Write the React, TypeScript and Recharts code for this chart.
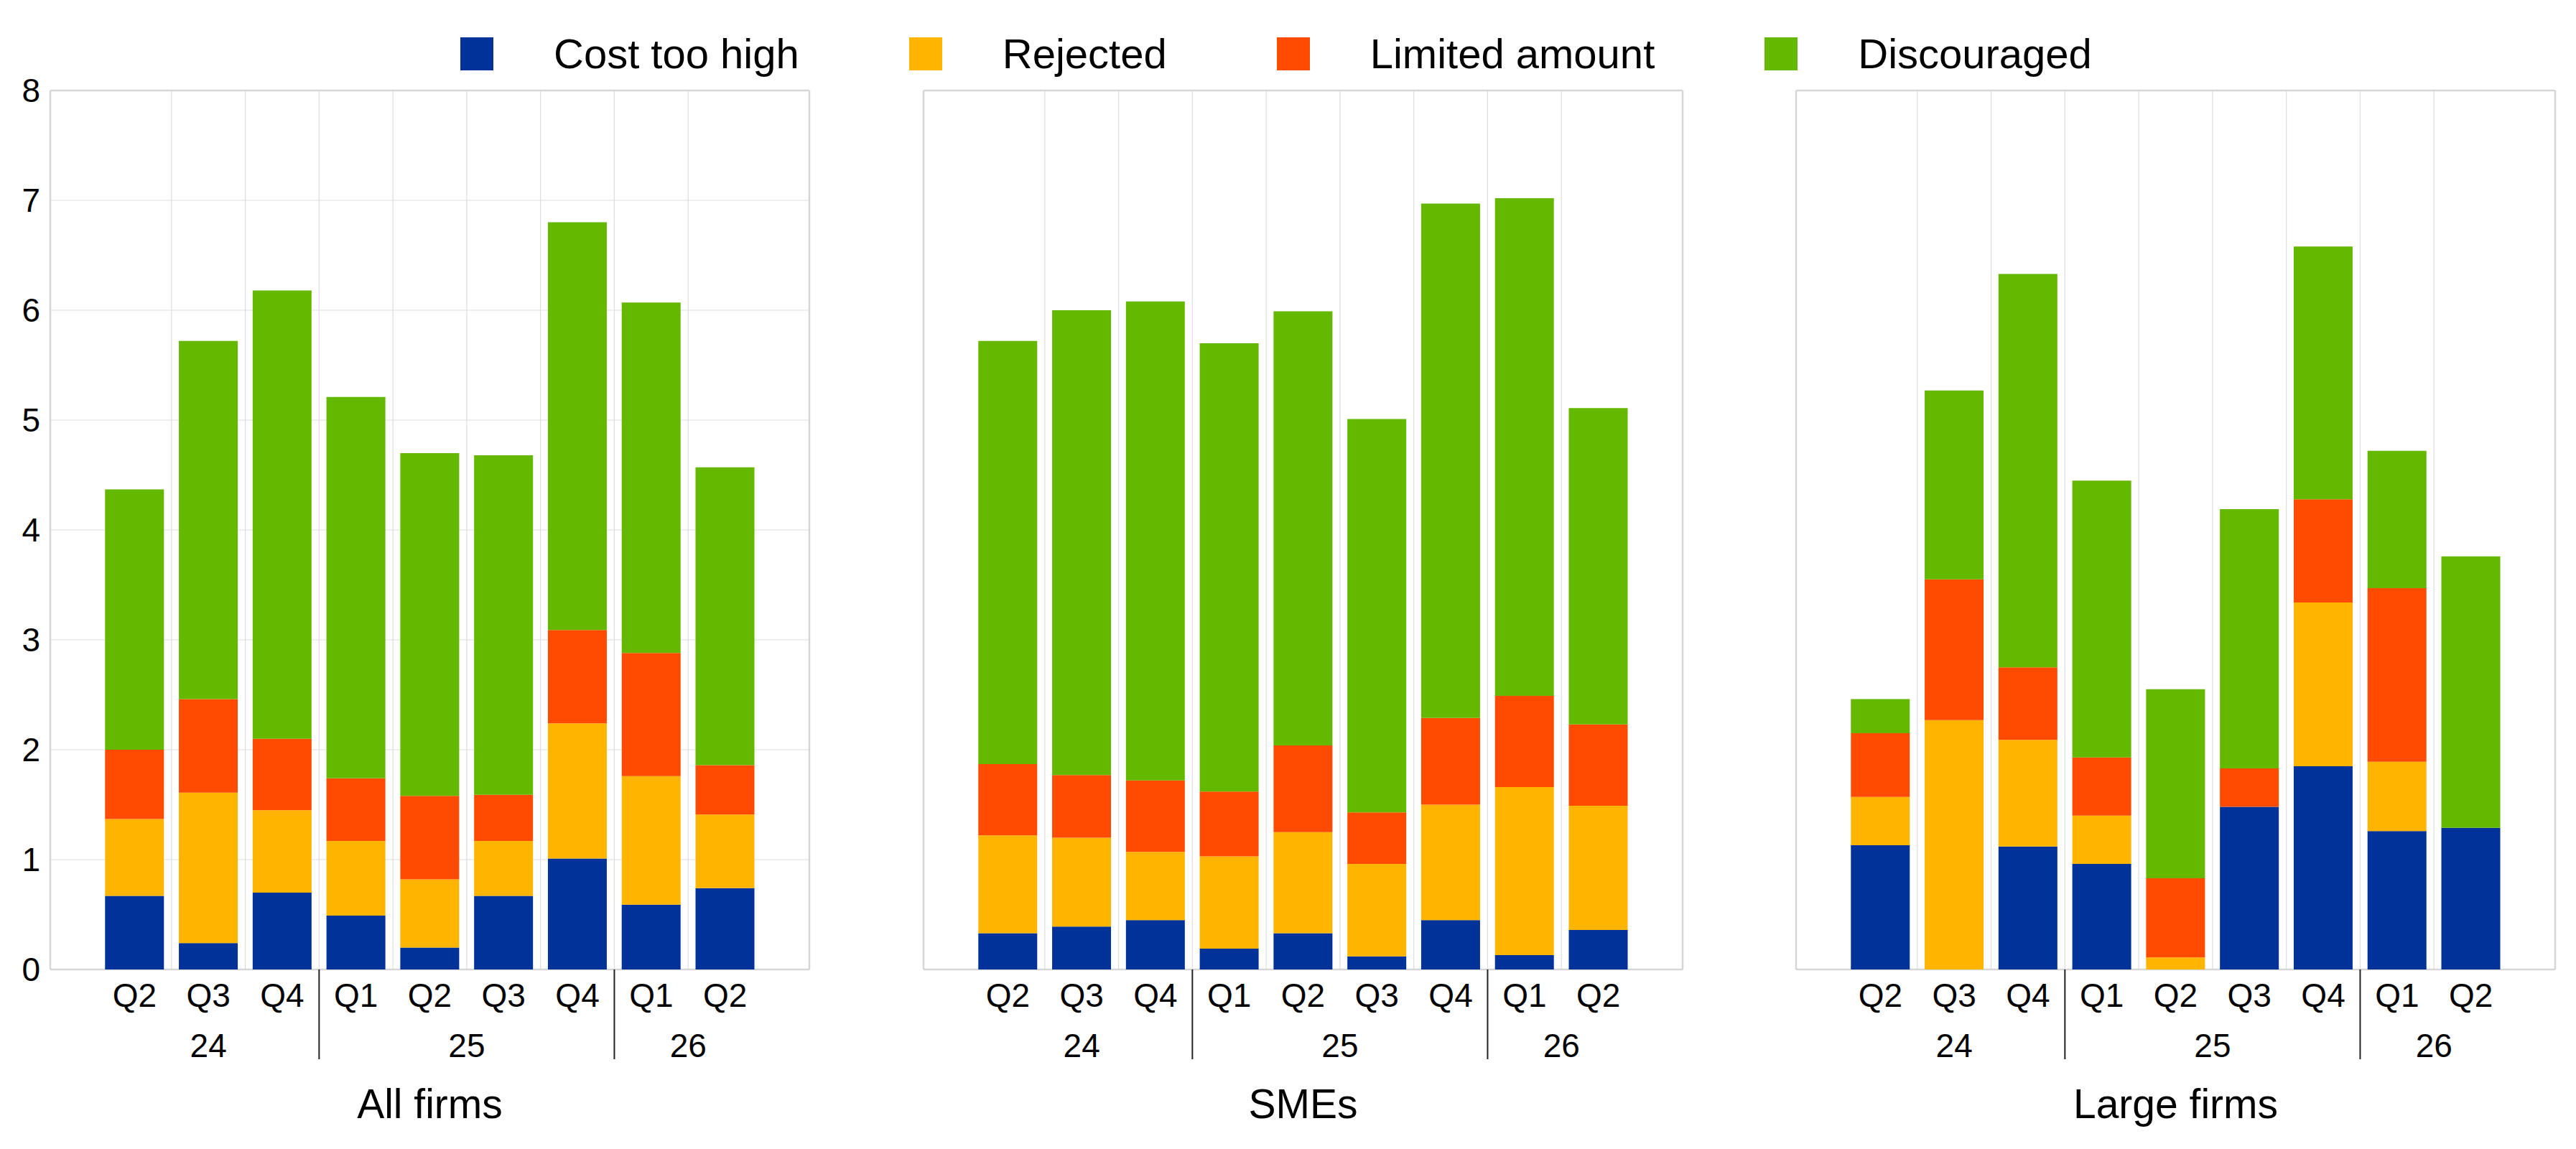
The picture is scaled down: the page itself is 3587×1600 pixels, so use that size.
import React from 'react';
import { BarChart, Bar, XAxis, YAxis, CartesianGrid, Label } from 'recharts';

const quarters = ['Q2', 'Q3', 'Q4', 'Q1', 'Q2', 'Q3', 'Q4', 'Q1', 'Q2'];
const years = ['24', '24', '24', '25', '25', '25', '25', '26', '26'];
const yTicks = [0, 1, 2, 3, 4, 5, 6, 7, 8];

// All firms
const allCost = [0.67, 0.24, 0.70, 0.49, 0.20, 0.67, 1.01, 0.59, 0.74];
const allRejected = [0.70, 1.37, 0.75, 0.68, 0.62, 0.50, 1.23, 1.17, 0.67];
const allLimited = [0.63, 0.85, 0.65, 0.57, 0.76, 0.42, 0.85, 1.12, 0.45];
const allDiscouraged = [2.37, 3.26, 4.08, 3.47, 3.12, 3.09, 3.71, 3.19, 2.71];

// SMEs
const smeCost = [0.33, 0.39, 0.45, 0.19, 0.33, 0.12, 0.45, 0.13, 0.36];
const smeRejected = [0.89, 0.81, 0.62, 0.84, 0.92, 0.84, 1.05, 1.53, 1.13];
const smeLimited = [0.65, 0.57, 0.65, 0.59, 0.79, 0.47, 0.79, 0.83, 0.74];
const smeDiscouraged = [3.85, 4.23, 4.36, 4.08, 3.95, 3.58, 4.68, 4.53, 2.88];

// Large firms
const largeCost = [1.13, 0, 1.12, 0.96, 0, 1.48, 1.85, 1.26, 1.29];
const largeRejected = [0.44, 2.27, 0.97, 0.44, 0.11, 0, 1.49, 0.63, 0];
const largeLimited = [0.58, 1.28, 0.66, 0.53, 0.72, 0.35, 0.94, 1.58, 0];
const largeDiscouraged = [0.31, 1.72, 3.58, 2.52, 1.72, 2.36, 2.30, 1.25, 2.47];

const series = [
  { key: 'cost', name: 'Cost too high', color: '#003299' },
  { key: 'rejected', name: 'Rejected', color: '#ffb400' },
  { key: 'limited', name: 'Limited amount', color: '#ff4b00' },
  { key: 'discouraged', name: 'Discouraged', color: '#65b800' },
];

const buildRows = (cost: number[], rejected: number[], limited: number[], discouraged: number[]) =>
  quarters.map((q, i) => ({
    period: `${years[i]} ${q}`,
    cost: cost[i],
    rejected: rejected[i],
    limited: limited[i],
    discouraged: discouraged[i],
  }));

const panels = [
  { title: 'All firms', data: buildRows(allCost, allRejected, allLimited, allDiscouraged) },
  { title: 'SMEs', data: buildRows(smeCost, smeRejected, smeLimited, smeDiscouraged) },
  { title: 'Large firms', data: buildRows(largeCost, largeRejected, largeLimited, largeDiscouraged) },
];

const FONT = '"Liberation Sans", Arial, Helvetica, sans-serif';
const PANEL_LEFTS = [70, 1286, 2501];
const PLOT_W = 1057;
const PLOT_TOP = 126;
const PLOT_H = 1224;
const AXIS_W = 70;
const RIGHT_M = 10;
const PAD = 66;
const BAND = (PLOT_W - 2 * PAD) / quarters.length;
const CHART_H = 1600;

// quarter label, plus year label and separator at the start of each year group
const PeriodTick = (props: any) => {
  const { x, y, index, payload } = props;
  const i = index ?? payload?.index ?? 0;
  const q = String(payload.value).split(' ')[1];
  const groupStart = i === 0 || years[i] !== years[i - 1];
  let groupLen = 0;
  if (groupStart) {
    while (i + groupLen < years.length && years[i + groupLen] === years[i]) groupLen++;
  }
  return (
    <g>
      <text x={x} y={y + 52} textAnchor="middle" fontSize={46} fontFamily={FONT} fill="#000">
        {q}
      </text>
      {groupStart && (
        <text
          x={x + ((groupLen - 1) / 2) * BAND}
          y={y + 122}
          textAnchor="middle"
          fontSize={46}
          fontFamily={FONT}
          fill="#000"
        >
          {years[i]}
        </text>
      )}
      {groupStart && i > 0 && (
        <line x1={x - BAND / 2} x2={x - BAND / 2} y1={y} y2={y + 125} stroke="#222" strokeWidth={2} />
      )}
    </g>
  );
};

const innerVertical = quarters.slice(1).map((_, k) => AXIS_W + PAD + (k + 1) * BAND);

const Panel: React.FC<{ title: string; data: any[]; showY: boolean }> = ({ title, data, showY }) => (
  <BarChart
    width={AXIS_W + PLOT_W + RIGHT_M}
    height={CHART_H}
    data={data}
    margin={{ top: PLOT_TOP, right: RIGHT_M, bottom: 0, left: 0 }}
  >
    <CartesianGrid stroke="#dddddd" strokeWidth={1.2} verticalPoints={innerVertical} />
    <CartesianGrid
      stroke="#d6d6d6"
      strokeWidth={2.5}
      verticalPoints={[AXIS_W, AXIS_W + PLOT_W]}
      horizontalPoints={[PLOT_TOP, PLOT_TOP + PLOT_H]}
    />
    <XAxis
      dataKey="period"
      interval={0}
      height={CHART_H - PLOT_TOP - PLOT_H}
      padding={{ left: PAD, right: PAD }}
      tickLine={false}
      axisLine={false}
      tickSize={0}
      tickMargin={0}
      tick={<PeriodTick />}
    >
      <Label value={title} position="insideBottom" offset={43} fontSize={57} fill="#000" fontFamily={FONT} />
    </XAxis>
    <YAxis
      domain={[0, 8]}
      ticks={yTicks}
      width={AXIS_W}
      tickLine={false}
      axisLine={false}
      tickSize={0}
      tickMargin={14}
      tick={showY ? { fontSize: 46, fill: '#000', fontFamily: FONT } : false}
    />
    {series.map(s => (
      <Bar key={s.key} dataKey={s.key} name={s.name} stackId="a" fill={s.color} isAnimationActive={false} />
    ))}
  </BarChart>
);

const LegendRow: React.FC = () => (
  <div
    style={{
      position: 'absolute',
      left: 641,
      top: 46,
      height: 58,
      display: 'flex',
      alignItems: 'center',
      fontFamily: FONT,
    }}
  >
    {series.map((s, i) => (
      <div key={s.key} style={{ display: 'flex', alignItems: 'center', marginRight: i < series.length - 1 ? 153 : 0 }}>
        <div style={{ width: 46, height: 46, background: s.color, marginRight: 84 }} />
        <span style={{ fontSize: 58, lineHeight: '58px', whiteSpace: 'nowrap', color: '#000' }}>{s.name}</span>
      </div>
    ))}
  </div>
);

export default function App() {
  return (
    <div style={{ position: 'absolute', left: 0, top: 0, width: 3587, height: 1600, background: '#fff', overflow: 'hidden' }}>
      {panels.map((p, i) => (
        <div key={p.title} style={{ position: 'absolute', left: PANEL_LEFTS[i] - AXIS_W, top: 0 }}>
          <Panel title={p.title} data={p.data} showY={i === 0} />
        </div>
      ))}
      <LegendRow />
    </div>
  );
}
